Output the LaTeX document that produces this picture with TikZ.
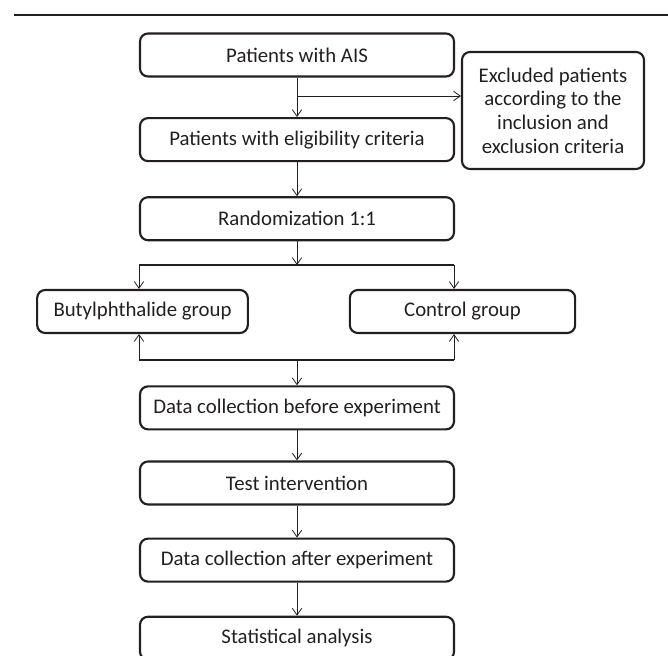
\documentclass[tikz,border=0pt]{standalone}
\usepackage{fontspec}
\setmainfont{Carlito}
\usetikzlibrary{arrows.meta, positioning}
\definecolor{ink}{RGB}{35,31,32}

\begin{document}
\begin{tikzpicture}[
    x=0.75pt, y=-0.75pt,
    stepbox/.style={rectangle, draw=ink, line width=1.6pt, rounded corners=6pt, minimum width=235.5pt, minimum height=32.25pt, inner sep=0pt, text=ink, font=\fontsize{15.6}{18}\selectfont},
    groupbox/.style={stepbox, minimum width=158pt, minimum height=32.25pt},
    exclbox/.style={stepbox, minimum width=136.5pt, minimum height=87.75pt, align=center, font=\fontsize{15.6}{17.8}\selectfont},
    arrow/.style={-{Straight Barb[length=5pt,width=7pt]}, line width=0.6pt, draw=ink},
    hubline/.style={line width=1.6pt, draw=ink}
]
    \useasboundingbox (0,0) rectangle (668,656);
    \draw[line width=1.9pt, ink] (14,15) -- (668,15);

    \node[stepbox] (ais) at (297,55) {Patients with AIS};
    \node[stepbox, below=29.6pt of ais] (elig) {Patients with eligibility criteria};
    \node[stepbox, below=25.5pt of elig] (rand) {Randomization 1:1};
    \node[groupbox] (butyl) at (142.5,311.5) {Butylphthalide group};
    \node[groupbox, minimum width=169pt] (ctrl) at (462.5,311.5) {Control group};
    \node[stepbox, below=108pt of rand] (before) {Data collection before experiment};
    \node[stepbox, below=22.5pt of before] (test) {Test intervention};
    \node[stepbox, below=24pt of test] (after) {Data collection after experiment};
    \node[stepbox, below=24.75pt of after] (stat) {Statistical analysis};
    \node[exclbox] (excl) at (553,110.5) {Excluded patients\\according to the\\inclusion and\\exclusion criteria};

    \coordinate (br) at (297,96);
    \coordinate (hub) at (297,265);
    \coordinate (hubL) at (139,265);
    \coordinate (hubR) at (454,265);
    \coordinate (low) at (297,360);
    \coordinate (lowL) at (139,360);
    \coordinate (lowR) at (454,360);

    \draw[arrow] (ais) -- (elig);
    \draw[arrow] (br) -- (br -| excl.west);
    \draw[arrow] (elig) -- (rand);
    \draw[arrow] (rand) -- (hub);
    \draw[hubline] (hubL) -- (hubR);
    \draw[arrow] (hubL) -- (hubL |- butyl.north);
    \draw[arrow] (hubR) -- (hubR |- ctrl.north);
    \draw[hubline] (lowL) -- (lowR);
    \draw[arrow] (lowL) -- (lowL |- butyl.south);
    \draw[arrow] (lowR) -- (lowR |- ctrl.south);
    \draw[arrow] (low) -- (before);
    \draw[arrow] (before) -- (test);
    \draw[arrow] (test) -- (after);
    \draw[arrow] (after) -- (stat);
\end{tikzpicture}
\end{document}
